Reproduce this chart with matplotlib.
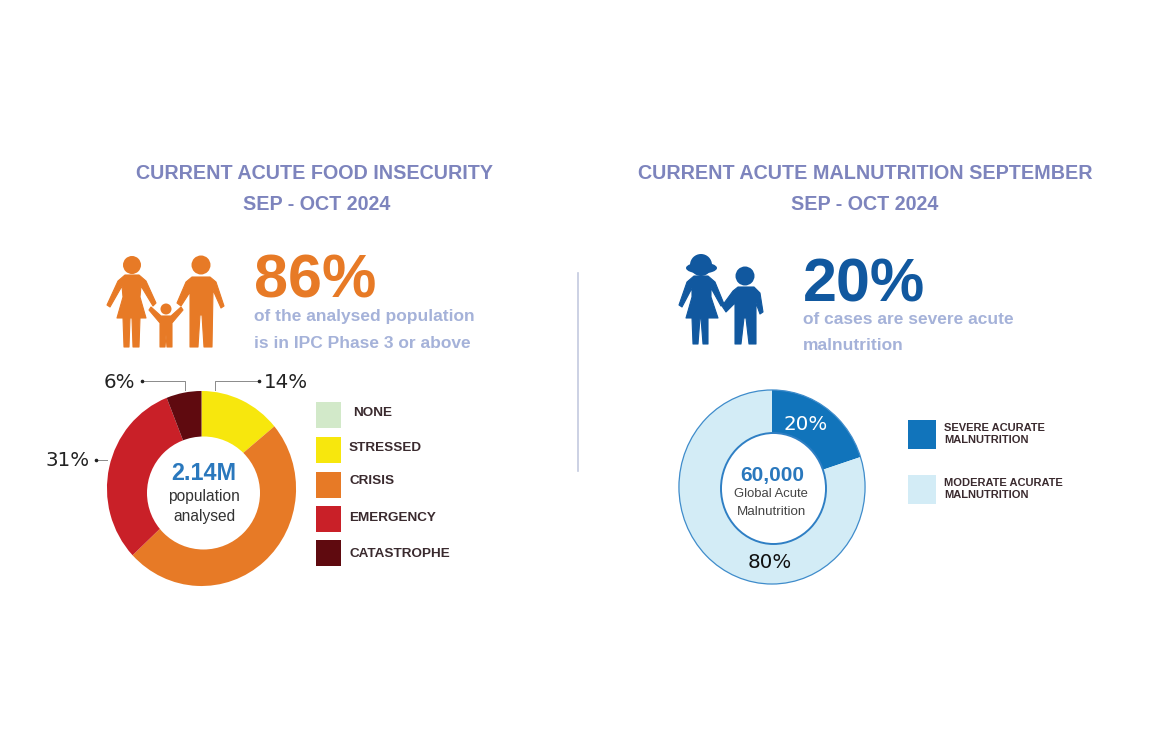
import matplotlib
matplotlib.use('Agg')
from matplotlib import pyplot as plt
from matplotlib.patches import Circle, Ellipse, Polygon, Rectangle

plt.rcParams['font.family'] = ['Liberation Sans', 'DejaVu Sans']

# data
food_values = [14, 49, 31, 6]
food_colors = ['#f7e70d', '#e77a26', '#c92028', '#5f0a0f']
food_legend = ['NONE', 'STRESSED', 'CRISIS', 'EMERGENCY', 'CATASTROPHE']
food_legend_colors = ['#d2e9c9', '#f7e70d', '#e77a26', '#c92028', '#5f0a0f']
food_box_y = [402, 437, 472, 506, 540]
food_text_y = [412, 447, 480, 517, 553]

maln_labels = ['SEVERE ACURATE\nMALNUTRITION', 'MODERATE ACURATE\nMALNUTRITION']
maln_values = [20, 80]
maln_colors = ['#1174bb', '#d3ecf6']
maln_legend_y = [434, 489]

TITLE = '#7d84bd'
SUB = '#a5b2d9'
ORANGE = '#e77a26'
BLUE = '#11589f'
DARK = '#3a2a2e'

W, H = 1170, 730
fig = plt.figure(figsize=(W / 100, H / 100), dpi=100)
bg = fig.add_axes([0, 0, 1, 1], zorder=5)
bg.set_xlim(0, W)
bg.set_ylim(H, 0)
bg.axis('off')
bg.patch.set_alpha(0)


# the donuts in the picture are a bit taller than wide
def donut(cx, cy, rx, ry, values, colors, width, edge=None):
    ax = fig.add_axes([(cx - rx) / W, 1 - (cy + ry) / H, 2 * rx / W, 2 * ry / H], zorder=1)
    ax.pie(values, colors=colors, startangle=90, counterclock=False, radius=0.99,
           wedgeprops=dict(width=width, linewidth=0))
    ax.set_aspect('auto')
    ax.set_xlim(-1, 1)
    ax.set_ylim(-1, 1)
    if edge:
        ax.add_patch(Circle((0, 0), 0.99, fill=False, ec=edge, lw=0.9))
    return ax


def shape(pts, color):
    bg.add_patch(Polygon(pts, closed=True, fc=color, ec=color, lw=0.8, joinstyle='round'))


def head(x, y, r, color):
    bg.add_patch(Circle((x, y), r, fc=color, ec='none'))


# titles
for x, y, s in [(315, 173.5, 'CURRENT ACUTE FOOD INSECURITY'), (317, 204, 'SEP - OCT 2024'),
                (865, 173.5, 'CURRENT ACUTE MALNUTRITION SEPTEMBER'), (865, 204, 'SEP - OCT 2024')]:
    bg.text(x, y, s, color=TITLE, fontsize=14.2, fontweight='bold', ha='center', va='center')

# divider
bg.plot([578, 578], [273, 471], color='#c3cadf', lw=1.2)

# family icon
head(132, 265, 9, ORANGE)
shape([(125, 275), (139, 275), (146, 281), (156, 303), (153, 306), (141, 286), (140, 297), (146, 318), (140, 318),
       (139, 347), (133, 347), (132, 318), (130, 318), (129, 347), (124, 347), (123, 318), (117, 318), (123, 297),
       (122, 286), (110, 307), (107, 305), (118, 281)], ORANGE)
head(201, 265, 9.5, ORANGE)
shape([(192, 277), (210, 277), (216, 282), (224, 306), (221, 308), (213, 290), (212, 347), (204, 347), (202, 315),
       (200, 315), (198, 347), (190, 347), (190, 292), (181, 306), (177, 303), (186, 282)], ORANGE)
head(166, 309, 5.5, ORANGE)
shape([(161, 316), (171, 316), (181, 307), (183, 310), (172, 323), (172, 347), (167, 347), (166, 335), (165, 347),
       (160, 347), (160, 323), (149, 310), (151, 307)], ORANGE)

# kids icon
head(701, 265, 11, BLUE)
bg.add_patch(Ellipse((701.5, 268), 31, 11, fc=BLUE, ec='none'))
shape([(694, 276), (708, 276), (715, 282), (724, 304), (721, 306), (711, 288), (711, 297), (718, 318), (708, 318),
       (708, 344), (703, 344), (701, 318), (700, 318), (698, 344), (693, 344), (692, 318), (686, 318), (692, 297),
       (692, 288), (682, 307), (679, 305), (687, 282)], BLUE)
head(745, 276, 9.5, BLUE)
shape([(738, 287), (754, 287), (760, 293), (763, 312), (760, 314), (756, 303), (756, 344), (749, 344), (746, 318),
       (744, 318), (741, 344), (735, 344), (735, 303), (726, 312), (722, 306), (733, 291)], BLUE)

# big numbers
bg.text(254, 297, '86%', color=ORANGE, fontsize=44, fontweight='bold', va='baseline')
bg.text(803, 301, '20%', color=BLUE, fontsize=44, fontweight='bold', va='baseline')
for x, y, s in [(254, 317, 'of the analysed population'), (254, 343, 'is in IPC Phase 3 or above'),
                (803, 320, 'of cases are severe acute'), (803, 346, 'malnutrition')]:
    bg.text(x, y, s, color=SUB, fontsize=12.5, fontweight='bold', va='center')

# left donut
donut(201.5, 488.5, 95.5, 98.5, food_values, food_colors, 0.48)
bg.add_patch(Circle((203.5, 493), 56.5, fc='white', ec='none'))
bg.text(204, 474, '2.14M', color='#2a78bd', fontsize=16.8, fontweight='bold', ha='center', va='center')
bg.text(204, 496, 'population', color='#333333', fontsize=11.2, ha='center', va='center')
bg.text(204, 516, 'analysed', color='#333333', fontsize=11.2, ha='center', va='center')

# leader lines
line = '#8a8a8a'
bg.plot([185, 185, 143], [390, 381, 381], color=line, lw=0.7)
bg.plot([215, 215, 258], [390, 381, 381], color=line, lw=0.7)
bg.plot([107, 96], [460, 460], color=line, lw=0.7)
for x, y in [(142, 381), (259, 381), (96, 460)]:
    bg.plot(x, y, 'o', color='#222222', ms=1.6)
pct = dict(family='DejaVu Sans', fontsize=14.3, va='center')
bg.text(135, 382, '6%', color='#222222', ha='right', **pct)
bg.text(264, 382, '14%', color='#222222', ha='left', **pct)
bg.text(90, 461, '31%', color='#222222', ha='right', **pct)

# left legend
for name, col, by, ty in zip(food_legend, food_legend_colors, food_box_y, food_text_y):
    bg.add_patch(Rectangle((316, by), 25, 26, fc=col, ec='none'))
    bg.text(353 if name == 'NONE' else 349, ty + 1, name, color=DARK, fontsize=9.7, fontweight='bold', va='center')

# right donut
donut(772, 487, 94, 98, maln_values, maln_colors, 0.5, edge='#3f8ccb')
bg.add_patch(Ellipse((773.5, 488.5), 105, 111, fc='white', ec='#2f7fc4', lw=1.4))
bg.text(806, 424, '20%', color='white', ha='center', **pct)
bg.text(770, 562, '80%', color='#111111', ha='center', **pct)
bg.text(772, 476, '60,000', color='#2a78bd', fontsize=15, fontweight='bold', ha='center', va='center')
bg.text(771, 494, 'Global Acute', color='#444444', fontsize=9.4, ha='center', va='center')
bg.text(772, 512, 'Malnutrition', color='#444444', fontsize=9.6, ha='center', va='center')

# right legend
for name, col, y in zip(maln_labels, maln_colors, maln_legend_y):
    bg.add_patch(Rectangle((908, y - 14.5), 28, 29, fc=col, ec='none'))
    bg.text(944, y, name, color=DARK, fontsize=8, fontweight='bold', va='center', linespacing=1.15)

fig.savefig('out.png', dpi=100, facecolor='white')
